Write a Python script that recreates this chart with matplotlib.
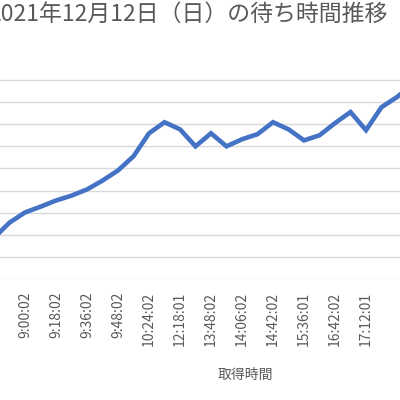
import matplotlib
matplotlib.use("Agg")
import matplotlib.pyplot as plt

plt.rcParams['font.family'] = ['Noto Sans CJK JP', 'DejaVu Sans']

title = "2021年12月12日（日）の待ち時間推移"
xlabel = "取得時間"
tick_labels = ["9:00:02", "9:18:02", "9:36:02", "9:48:02", "10:24:02", "12:18:01",
               "13:48:02", "14:06:02", "14:42:02", "15:36:01", "16:42:02", "17:12:01"]
# waiting time (min) per sample, from index -2 upward
values = [18.6, 25.5, 30.1, 32.7, 35.5, 37.7, 40.5, 44.5, 49.1, 55.5, 65.9, 70.9,
          67.7, 60.0, 65.9, 60.0, 63.2, 65.5, 70.9, 67.7, 62.7, 65.0, 70.5, 75.5,
          67.3, 77.7, 82.3, 88.0]
xs = list(range(-2, -2 + len(values)))

fig = plt.figure(figsize=(4, 4), dpi=100)
ax = fig.add_axes([0, 1 - 279 / 400, 1, (279 - 58) / 400])
ax.plot(xs, values, color="#4472C4", lw=3.3, solid_joinstyle="miter")
ax.set_xlim(-25 / 15.5, (400 - 25) / 15.5)
ax.set_ylim(0, 90 + 10 * 22 / 22.1)
ax.set_yticks(range(0, 100, 10))
ax.yaxis.grid(True, color="#d9d9d9", lw=1)
ax.set_axisbelow(True)
ax.set_xticks(range(0, 2 * len(tick_labels), 2))
ax.set_xticklabels(tick_labels, rotation=90, fontsize=10, color="#595959")
ax.tick_params(axis="x", length=0, pad=9)
ax.tick_params(axis="y", length=0, labelleft=False)
for s in ax.spines.values():
    s.set_visible(False)
fig.text(-0.03, 1 - 14 / 400, title, fontsize=16.5, color="#595959", ha="left", va="center")
fig.text(245 / 400, 1 - 375 / 400, xlabel, fontsize=10, color="#595959", ha="center", va="center")
fig.savefig("out.png", dpi=100)
